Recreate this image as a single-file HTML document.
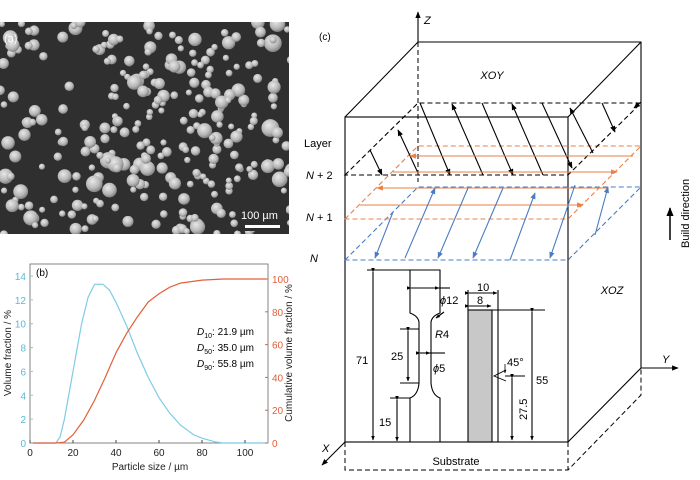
<!DOCTYPE html>
<html><head><meta charset="utf-8"><style>
html,body{margin:0;padding:0;background:#fff;width:700px;height:480px;overflow:hidden}
svg{display:block}
text{font-family:"Liberation Sans",sans-serif}
</style></head><body>
<svg id="s" width="700" height="480" viewBox="0 0 700 480" xmlns="http://www.w3.org/2000/svg">
<defs>
<radialGradient id="pg" cx="0.4" cy="0.35" r="0.7">
<stop offset="0" stop-color="#e8e8e8"/><stop offset="0.6" stop-color="#b8b8b8"/><stop offset="1" stop-color="#777"/>
</radialGradient>
<marker id="ak" viewBox="0 0 10 10" refX="9" refY="5" markerWidth="6" markerHeight="6" orient="auto"><path d="M0,1L10,5L0,9z" fill="#000"/></marker>
<marker id="ao" viewBox="0 0 10 10" refX="9" refY="5" markerWidth="6" markerHeight="6" orient="auto"><path d="M0,1L10,5L0,9z" fill="#e8804a"/></marker>
<marker id="ab" viewBox="0 0 10 10" refX="9" refY="5" markerWidth="6" markerHeight="6" orient="auto"><path d="M0,1L10,5L0,9z" fill="#4a7cc4"/></marker>
<marker id="as" viewBox="0 0 10 10" refX="9" refY="5" markerWidth="4" markerHeight="4" orient="auto"><path d="M0,1L10,5L0,9z" fill="#000"/></marker>
<clipPath id="pc"><rect x="0" y="22" width="289" height="212"/></clipPath>
</defs>
<!-- (a) photo -->
<rect x="0" y="22" width="289" height="212" fill="#2f2f2f"/>
<g id="parts" clip-path="url(#pc)"></g>
<rect x="238" y="205" width="48" height="26" fill="#2f2f2f"/>
<text x="4" y="42" font-size="11" fill="#fff">(a)</text>
<text x="241" y="219" font-size="11" fill="#fff">100 µm</text>
<rect x="245" y="225" width="35" height="3" fill="#fff"/>

<!-- (b) plot -->
<g id="plot">
<rect x="30" y="264" width="238" height="179" fill="none" stroke="#666" stroke-width="0.8"/>
<text x="36" y="276" font-size="10">(b)</text>
<text transform="translate(11,353) rotate(-90)" font-size="10" text-anchor="middle" fill="#222">Volume fraction / %</text>
<text transform="translate(292,353) rotate(-90)" font-size="10" text-anchor="middle" fill="#222">Cumulative volume fraction / %</text>
<text x="150" y="470" font-size="10" text-anchor="middle" fill="#222">Particle size / µm</text>
<text x="197" y="335" font-size="10"><tspan font-style="italic">D</tspan><tspan font-size="7" dy="3">10</tspan><tspan dy="-3">: 21.9 µm</tspan></text>
<text x="197" y="351" font-size="10"><tspan font-style="italic">D</tspan><tspan font-size="7" dy="3">50</tspan><tspan dy="-3">: 35.0 µm</tspan></text>
<text x="197" y="367" font-size="10"><tspan font-style="italic">D</tspan><tspan font-size="7" dy="3">90</tspan><tspan dy="-3">: 55.8 µm</tspan></text>
</g>

<!-- (c) diagram -->
<g fill="none" stroke="#000" stroke-width="1.1">
<text x="319" y="40" font-size="10" stroke="none" fill="#000">(c)</text>
<line x1="418" y1="42" x2="418" y2="12" marker-end="url(#ak)"/>
<text x="424" y="24" font-size="11" font-style="italic" stroke="none" fill="#000">Z</text>
<polyline points="345,117 418,42 641,42 641,368"/>
<line x1="568" y1="117" x2="641" y2="42"/>
<rect x="345" y="117" width="223" height="325"/>
<line x1="568" y1="442" x2="641" y2="368"/>
<line x1="641" y1="368" x2="678" y2="368" marker-end="url(#ak)"/>
<text x="662" y="363" font-size="11" font-style="italic" stroke="none" fill="#000">Y</text>
<line x1="345" y1="442" x2="322" y2="465" marker-end="url(#ak)"/>
<text x="322" y="452" font-size="11" font-style="italic" stroke="none" fill="#000">X</text>
<g stroke-dasharray="5,3" stroke-width="1">
<line x1="418" y1="42" x2="418" y2="182"/>
<polyline points="345,442 345,470 568,470 641,395 641,368"/>
<line x1="568" y1="442" x2="568" y2="470"/>
</g>
<text x="456" y="465" font-size="11" stroke="none" fill="#000" text-anchor="middle">Substrate</text>
<text x="492" y="79" font-size="11" font-style="italic" stroke="none" fill="#000" text-anchor="middle">XOY</text>
<text x="612" y="294" font-size="11" font-style="italic" stroke="none" fill="#000" text-anchor="middle">XOZ</text>
<text x="304" y="147" font-size="11" stroke="none" fill="#000">Layer</text>
<text x="306" y="179" font-size="11" stroke="none" fill="#000"><tspan font-style="italic">N</tspan> + 2</text>
<text x="306" y="221" font-size="11" stroke="none" fill="#000"><tspan font-style="italic">N</tspan> + 1</text>
<text x="310" y="262" font-size="11" stroke="none" fill="#000" font-style="italic">N</text>
<line x1="670" y1="240" x2="670" y2="208" stroke-width="1.5" marker-end="url(#ak)"/>
<text transform="translate(689,248) rotate(-90)" font-size="11" stroke="none" fill="#000">Build direction</text>
<!-- layers -->
<polygon points="345,260 418,187 641,187 568,260" stroke="#4a7cc4" stroke-dasharray="5,3"/>
<polygon points="345,219 418,146 641,146 568,219" stroke="#e8804a" stroke-dasharray="5,3"/>
<polygon points="345,175 418,103 641,103 568,175" stroke="#000" stroke-dasharray="5,3"/>
<g id="arr"></g>
<!-- tensile specimen -->
<path d="M410,270 H440 V313 Q432,316 431,322 V383 Q432,395 440,398 V442 M410,442 V398 Q418,395 419,383 V322 Q418,316 410,313 V270"/>
<line x1="367" y1="270" x2="410" y2="270"/>
<line x1="373" y1="272" x2="373" y2="440" marker-start="url(#as)" marker-end="url(#as)"/>
<line x1="400" y1="329" x2="419" y2="329"/><line x1="400" y1="383" x2="419" y2="383"/>
<line x1="408" y1="331" x2="408" y2="381" marker-start="url(#as)" marker-end="url(#as)"/>
<line x1="397" y1="400" x2="397" y2="441" marker-start="url(#as)" marker-end="url(#as)"/>
<line x1="390" y1="398" x2="410" y2="398"/>
<line x1="411" y1="288" x2="439" y2="288" marker-start="url(#as)" marker-end="url(#as)"/>
<line x1="439" y1="288" x2="450" y2="288"/>
<line x1="444" y1="312" x2="436" y2="318" marker-end="url(#as)"/>
<line x1="420" y1="353" x2="430" y2="353" marker-start="url(#as)" marker-end="url(#as)"/>
<line x1="430" y1="353" x2="445" y2="353"/>
<text x="440" y="304" font-size="11" stroke="none" fill="#000"><tspan font-style="italic">ϕ</tspan>12</text>
<text x="435" y="338" font-size="11" stroke="none" fill="#000"><tspan font-style="italic">R</tspan>4</text>
<text x="433" y="372" font-size="11" stroke="none" fill="#000"><tspan font-style="italic">ϕ</tspan>5</text>
<text x="356" y="364" font-size="11" stroke="none" fill="#000">71</text>
<text x="391" y="360" font-size="11" stroke="none" fill="#000">25</text>
<text x="379" y="426" font-size="11" stroke="none" fill="#000">15</text>
<!-- bar -->
<rect x="468" y="310" width="24" height="132" fill="#c8c8c8"/>
<line x1="498" y1="290" x2="498" y2="442"/>
<line x1="468" y1="290" x2="468" y2="310"/>
<line x1="469" y1="293" x2="497" y2="293" marker-start="url(#as)" marker-end="url(#as)"/>
<line x1="469" y1="306" x2="491" y2="306" marker-start="url(#as)" marker-end="url(#as)"/>
<line x1="492" y1="310" x2="545" y2="310"/>
<line x1="532" y1="312" x2="532" y2="440" marker-start="url(#as)" marker-end="url(#as)"/>
<line x1="512" y1="378" x2="512" y2="440" marker-start="url(#as)" marker-end="url(#as)"/>
<line x1="505" y1="376" x2="525" y2="376"/>
<path d="M506,370 L494,376 L506,381" stroke-width="0.9"/>
<line x1="505" y1="364" x2="505" y2="373" stroke-width="0.8" marker-end="url(#as)"/>
<text x="477" y="291" font-size="11" stroke="none" fill="#000">10</text>
<text x="477" y="304" font-size="11" stroke="none" fill="#000">8</text>
<text x="507" y="366" font-size="11" stroke="none" fill="#000">45°</text>
<text x="536" y="384" font-size="11" stroke="none" fill="#000">55</text>
<text transform="translate(527,420) rotate(-90)" font-size="11" stroke="none" fill="#000">27.5</text>
</g>
</svg>
<script>
var NS="http://www.w3.org/2000/svg";
function el(p,t,a){var e=document.createElementNS(NS,t);for(var k in a)e.setAttribute(k,a[k]);p.appendChild(e);return e;}
var seed=11;function r(){seed=(seed*16807)%2147483647;return seed/2147483647;}
var g=document.getElementById('parts');
for(var i=0;i<330;i++){
 var x=r()*295,y=22+r()*215;
 if(((x-60)*(x-60)/3000+(y-75)*(y-75)/900)<1 && r()<0.85)continue;
 if(x<90&&y>100&&y<150&&r()<0.6)continue;
 if(((x-250)*(x-250)/1200+(y-200)*(y-200)/500)<1 && r()<0.8)continue;
 var rad=3+r()*r()*6;
 el(g,'circle',{cx:x,cy:y,r:rad,fill:'url(#pg)'});
}
var p=document.getElementById('plot');
function X(u){return 30+2.15*u;}
var blue=[[0,0],[12,0],[14,0.5],[16,2],[20,6],[24,10],[27,12.2],[30,13.3],[34,13.3],[37,12.8],[40,11.8],[45,9.8],[50,7.5],[55,5.5],[60,3.8],[65,2.5],[70,1.5],[76,0.7],[80,0.4],[86,0.1],[90,0],[110,0]];
var org=[[0,0],[12,0],[16,0.5],[20,5],[25,14],[30,26],[35,40],[40,55],[45,67],[50,77],[55,86],[60,91],[65,95],[70,97.5],[80,99.3],[90,100],[110,100]];
el(p,'polyline',{points:blue.map(function(a){return X(a[0])+','+(443-11.93*a[1]);}).join(' '),fill:'none',stroke:'#7fcbe6','stroke-width':1.2});
el(p,'polyline',{points:org.map(function(a){return X(a[0])+','+(443-1.64*a[1]);}).join(' '),fill:'none',stroke:'#e0603a','stroke-width':1.2});
for(var v=0;v<=14;v+=2){var y=443-11.93*v;el(p,'line',{x1:30,y1:y,x2:33,y2:y,stroke:'#7fcbe6'});var t=el(p,'text',{x:26,y:y+4,'font-size':10,'text-anchor':'end',fill:'#5bb8d8'});t.textContent=v;}
for(var v=0;v<=100;v+=20){var y=443-1.64*v;el(p,'line',{x1:265,y1:y,x2:268,y2:y,stroke:'#e0603a'});var t=el(p,'text',{x:272,y:y+4,'font-size':10,fill:'#e0603a'});t.textContent=v;}
for(var v=0;v<=100;v+=20){var x=X(v);el(p,'line',{x1:x,y1:443,x2:x,y2:440,stroke:'#444'});var t=el(p,'text',{x:x,y:456,'font-size':10,'text-anchor':'middle',fill:'#222'});t.textContent=v;}
var a=document.getElementById('arr');
function L(x1,y1,x2,y2,c,m){el(a,'line',{x1:x1,y1:y1,x2:x2,y2:y2,stroke:c,'stroke-width':1.1,'marker-end':'url(#'+m+')'});}
// black
L(420,103,450,175,'#000','ak');L(483,175,452,104,'#000','ak');L(482,103,513,175,'#000','ak');
L(543,175,512,104,'#000','ak');L(542,103,572,168,'#000','ak');L(593,153,570,108,'#000','ak');
L(602,103,615,132,'#000','ak');L(641,102,634,108,'#000','ak');
L(418,173,398,130,'#000','ak');L(370,150,382,175,'#000','ak');
// orange
L(633,156,410,156,'#e8804a','ao');L(393,172,617,172,'#e8804a','ao');L(607,188,377,188,'#e8804a','ao');L(360,205,583,205,'#e8804a','ao');
// blue
L(405,258,435,188,'#4a7cc4','ab');L(468,188,438,258,'#4a7cc4','ab');L(503,188,473,258,'#4a7cc4','ab');
L(510,260,535,193,'#4a7cc4','ab');L(575,185,550,258,'#4a7cc4','ab');L(393,212,375,258,'#4a7cc4','ab');
L(595,235,608,187,'#4a7cc4','ab');
</script>
</body></html>
